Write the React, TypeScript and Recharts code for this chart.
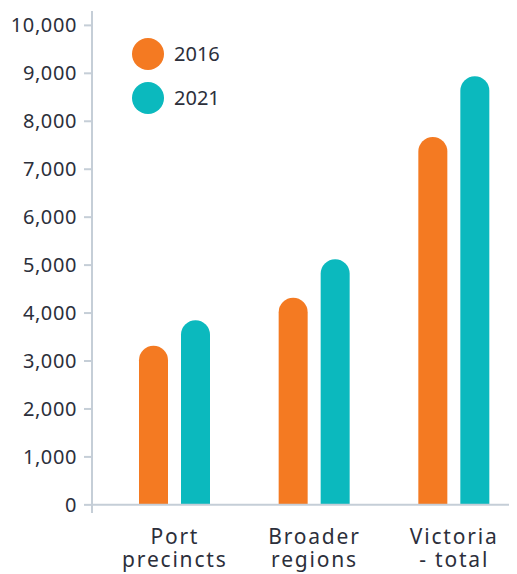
import { Bar, BarChart, Legend, ReferenceLine, XAxis, YAxis } from "recharts";

const categories = ["Port precincts", "Broader regions", "Victoria - total"];
const tickLines: Record<string, string[]> = {
  "Port precincts": ["Port", "precincts"],
  "Broader regions": ["Broader", "regions"],
  "Victoria - total": ["Victoria", "- total"]
};
const values2016 = [3320, 4320, 7670];
const values2021 = [3850, 5120, 8940];
const yTicks = [0, 1000, 2000, 3000, 4000, 5000, 6000, 7000, 8000, 9000, 10000];

const ORANGE = "#f47a22";
const TEAL = "#0bb9be";
const AXIS = "#c5ced7";
const TEXT = "#2c2f3b";
const FONT = "'Noto Sans', sans-serif";

const data = categories.map((name, i) => ({
  name,
  y2016: values2016[i],
  y2021: values2021[i]
}));

const legendItems = [
  { label: "2016", color: ORANGE },
  { label: "2021", color: TEAL }
];

function CategoryTick({ x, y, payload }: { x: number; y: number; payload: { value: string } }) {
  const lines = tickLines[payload.value] ?? [payload.value];
  return (
    <text x={x} y={y} textAnchor="middle" fill={TEXT} fontSize={21} letterSpacing={1.8} fontFamily={FONT}>
      {lines.map((line, i) => (
        <tspan key={line} x={x} dy={i === 0 ? 31 : 23}>
          {line}
        </tspan>
      ))}
    </text>
  );
}

function LegendBox() {
  return (
    <svg width={260} height={110} style={{ display: "block" }}>
      {legendItems.map((item, i) => (
        <g key={item.label}>
          <circle cx={140} cy={46 + i * 44} r={16} fill={item.color} />
          <text x={166} y={53 + i * 44} fill={TEXT} fontSize={20} fontFamily={FONT}>
            {item.label}
          </text>
        </g>
      ))}
    </svg>
  );
}

export default function App() {
  return (
    <div style={{ width: 509, height: 566, overflow: "hidden" }}>
      <BarChart
        width={516}
        height={566}
        data={data}
        margin={{ top: 3, right: 0, bottom: 0, left: 0 }}
        barSize={29}
        barGap={13}
      >
        <XAxis
          dataKey="name"
          axisLine={false}
          tickLine={false}
          tickSize={0}
          tickMargin={0}
          height={61}
          padding={{ left: 13, right: 0 }}
          interval={0}
          tick={CategoryTick}
        />
        <YAxis
          width={84}
          domain={[-170, 10300]}
          ticks={yTicks}
          allowDataOverflow
          interval={0}
          axisLine={{ stroke: AXIS, strokeWidth: 2 }}
          tickLine={{ stroke: AXIS, strokeWidth: 2 }}
          tickSize={8}
          tickMargin={7}
          tick={{ fill: TEXT, fontSize: 20, letterSpacing: 0.6, fontFamily: FONT }}
          tickFormatter={(v) => Number(v).toLocaleString("en-US")}
        />
        <Legend
          layout="horizontal"
          verticalAlign="middle"
          align="center"
          wrapperStyle={{ position: "absolute", top: 0, left: 0, width: 260, height: 110 }}
          content={() => <LegendBox />}
        />
        <ReferenceLine y={0} stroke={AXIS} strokeWidth={2} />
        <Bar dataKey="y2016" name="2016" fill={ORANGE} radius={[14.5, 14.5, 0, 0]} isAnimationActive={false} />
        <Bar dataKey="y2021" name="2021" fill={TEAL} radius={[14.5, 14.5, 0, 0]} isAnimationActive={false} />
      </BarChart>
    </div>
  );
}
